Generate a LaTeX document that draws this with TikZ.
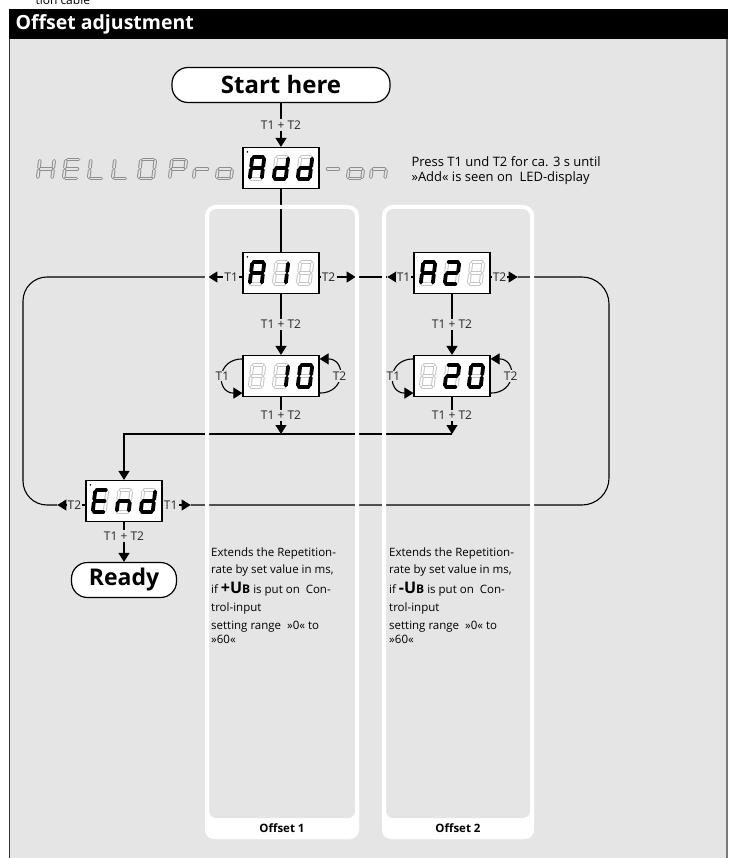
\documentclass[tikz,border=0pt]{standalone}
\usepackage{fontspec}
\setmainfont{Open Sans}
\usetikzlibrary{arrows.meta,positioning}

\definecolor{panelgray}{HTML}{E5E5E5}
\definecolor{ledpale}{HTML}{C6C6C6}
\definecolor{ledgray}{HTML}{8E8E8E}
\definecolor{framegray}{HTML}{7A7A7A}

\newcommand\segline[2]{%
  \if#2a\draw[#1] (-4.5,-11) -- (4.5,-11);\fi
  \if#2b\draw[#1] (6,-9.5) -- (6,-1.5);\fi
  \if#2c\draw[#1] (6,1.5) -- (6,9.5);\fi
  \if#2d\draw[#1] (-4.5,11) -- (4.5,11);\fi
  \if#2e\draw[#1] (-6,1.5) -- (-6,9.5);\fi
  \if#2f\draw[#1] (-6,-9.5) -- (-6,-1.5);\fi
  \if#2g\draw[#1] (-4.5,0) -- (4.5,0);\fi}
\newcommand\leddigit[3]{%
  \begin{scope}[shift={#1},xslant=0.12]
    \foreach \s in {#3} {\segline{segoff}{\s}\segline{segoffin}{\s}}
    \foreach \s in {#2} {\segline{segon}{\s}}
  \end{scope}}
\newcommand\ledblank[1]{%
  \begin{scope}[shift={#1},xslant=0.12]
    \foreach \s in {a,b,c,d,e,f,g} {\segline{segoff}{\s}\segline{segoffin}{\s}}
  \end{scope}}
\newcommand\ledhello[2]{%
  \begin{scope}[shift={#1},xslant=0.12,xscale=1.2,yscale=0.86]
    \foreach \s in {#2} {\segline{seghello}{\s}\segline{seghelloin}{\s}}
  \end{scope}}

\begin{document}
\begin{tikzpicture}[x=1pt,y=-1pt,
    disp/.style={draw,fill=white,line width=1.2pt,minimum width=76pt,minimum height=41pt,inner sep=0pt},
    pill/.style={draw,fill=white,line width=1.2pt,rounded corners=16pt,inner sep=0pt},
    lbl/.style={fill=panelgray,inner sep=1.2pt,text=black!85,font=\fontsize{12}{13}\selectfont},
    arr/.style={line width=1.1pt,-{Triangle[width=11pt,length=9pt]}},
    wire/.style={line width=1.1pt},
    segon/.style={black,line width=3.8pt,line cap=round},
    segoff/.style={ledpale,line width=3.8pt,line cap=round},
    segoffin/.style={white,line width=1.8pt,line cap=round},
    seghello/.style={ledgray,line width=3.6pt,line cap=round},
    seghelloin/.style={panelgray,line width=1.6pt,line cap=round},
    desc/.style={align=left,inner sep=0pt,anchor=north west,font=\fontsize{11.5}{14}\selectfont},
    offlbl/.style={font=\bfseries\fontsize{11.5}{13}\selectfont}]
    \useasboundingbox (0,0) rectangle (728,858);
    \clip (0,0) rectangle (728,858);

    \node[anchor=base west,font=\fontsize{12}{13}\selectfont] (capt) at (32,5) {tion cable};
    \fill[black] (9,9) rectangle (728,39);
    \node[anchor=west,text=white,font=\bfseries\fontsize{19.5}{21}\selectfont] (title) at (12,24) {Offset adjustment};
    \fill[panelgray] (9,39) rectangle (727,858);
    \draw[black!80,line width=1.2pt] (9.6,39) -- (9.6,858);
    \draw[framegray,line width=1.5pt] (727,39) -- (727,858);

    \fill[white,rounded corners=9pt] (205,790) rectangle (359,839);
    \fill[panelgray,rounded corners=7pt] (209,770) rectangle (355,818);
    \fill[white,rounded corners=9pt] (382,790) rectangle (534,839);
    \fill[panelgray,rounded corners=7pt] (386,770) rectangle (530,818);

    \node[pill,minimum width=218pt,minimum height=35pt,font=\bfseries\fontsize{24}{26}\selectfont] (start) at (281,85) {Start here};
    \node[disp] (add) at (281,168) {};
    \node[disp] (a1) at (281,273) {};
    \node[disp] (a10) at (281,376) {};
    \node[disp] (a2) at (452,273) {};
    \node[disp] (a20) at (452,376) {};
    \node[disp] (ende) at (124,501) {};
    \node[pill,minimum width=105pt,minimum height=35pt,font=\bfseries\fontsize{23}{25}\selectfont] (ready) at (124,580) {Ready};

    \coordinate (jn) at (0,434);
    \coordinate (lx) at (23,0);
    \coordinate (rx) at (609,0);
    \coordinate (a1l) at ([xshift=-34pt,yshift=-4pt]a1.west);
    \coordinate (a1r) at ([xshift=36pt,yshift=-4pt]a1.east);
    \coordinate (a2l) at ([xshift=-26pt,yshift=-4pt]a2.west);
    \coordinate (a2r) at ([xshift=27pt,yshift=-4pt]a2.east);
    \coordinate (endl) at ([xshift=-28pt,yshift=-4pt]ende.west);
    \coordinate (endr) at ([xshift=28pt,yshift=-4pt]ende.east);

    \draw[arr] (start) -- node[lbl]{T1 + T2} (add);
    \draw[wire] (add) -- (a1);
    \draw[arr] (a1) -- node[lbl]{T1 + T2} (a10);
    \draw[arr] (a2) -- node[lbl]{T1 + T2} (a20);
    \draw[arr] (a10) -- node[lbl]{T1 + T2} (a10 |- jn);
    \draw[arr] (a20) -- node[lbl]{T1 + T2} (a20 |- jn);
    \draw[arr] (a20 |- jn) -| (ende);
    \draw[arr] (ende) -- node[lbl,pos=.35]{T1 + T2} (ready);

    \draw[wire,rounded corners=24pt] (a1l) -- (a1l -| lx) -- (endl -| lx) -- (endl);
    \draw[wire,rounded corners=27pt] (a2r) -- (a2r -| rx) -- (endr -| rx) -- (endr);
    \draw[wire] (a1r) -- (a2l);
    \draw[arr] ([yshift=-4pt]a1.west) -- node[lbl,pos=.33]{T1} (a1l);
    \draw[arr] ([yshift=-4pt]a1.east) -- node[lbl,pos=.25]{T2} (a1r);
    \draw[arr] ([yshift=-4pt]a2.west) -- node[lbl,pos=.38]{T1} (a2l);
    \draw[arr] ([yshift=-4pt]a2.east) -- node[lbl,pos=.33]{T2} (a2r);
    \draw[arr] ([yshift=-4pt]ende.west) -- node[lbl,pos=.39]{T2} (endl);
    \draw[arr] ([yshift=-4pt]ende.east) -- node[lbl,pos=.29]{T1} (endr);

    \draw[arr] ([yshift=-4pt]a10.north west) to[out=180,in=180,looseness=2] node[lbl]{T1} ([yshift=4pt]a10.south west);
    \draw[arr] ([yshift=4pt]a10.south east) to[out=0,in=0,looseness=2] node[lbl]{T2} ([yshift=-4pt]a10.north east);
    \draw[arr] ([yshift=-4pt]a20.north west) to[out=180,in=180,looseness=2] node[lbl]{T1} ([yshift=4pt]a20.south west);
    \draw[arr] ([yshift=4pt]a20.south east) to[out=0,in=0,looseness=2] node[lbl]{T2} ([yshift=-4pt]a20.north east);

    \leddigit{([xshift=-24pt]add.center)}{a,b,c,e,f,g}{d}
    \leddigit{(add.center)}{b,c,d,e,g}{a,f}
    \leddigit{([xshift=24pt]add.center)}{b,c,d,e,g}{a,f}
    \leddigit{([xshift=-24pt]a1.center)}{a,b,c,e,f,g}{d}
    \leddigit{(a1.center)}{b,c}{a,d,e,f,g}
    \ledblank{([xshift=24pt]a1.center)}
    \ledblank{([xshift=-24pt]a10.center)}
    \leddigit{(a10.center)}{b,c}{a,d,e,f,g}
    \leddigit{([xshift=24pt]a10.center)}{a,b,c,d,e,f}{g}
    \leddigit{([xshift=-24pt]a2.center)}{a,b,c,e,f,g}{d}
    \leddigit{(a2.center)}{a,b,g,e,d}{c,f}
    \ledblank{([xshift=24pt]a2.center)}
    \ledblank{([xshift=-24pt]a20.center)}
    \leddigit{(a20.center)}{a,b,g,e,d}{c,f}
    \leddigit{([xshift=24pt]a20.center)}{a,b,c,d,e,f}{g}
    \leddigit{([xshift=-24pt]ende.center)}{a,d,e,f,g}{b,c}
    \leddigit{(ende.center)}{c,e,g}{a,b,d,f}
    \leddigit{([xshift=24pt]ende.center)}{b,c,d,e,g}{a,f}
    \fill ([xshift=5pt,yshift=-5pt]add.north west) circle (0.9pt);
    \fill ([xshift=5pt,yshift=-5pt]a1.north west) circle (0.9pt);
    \fill ([xshift=5pt,yshift=-5pt]ende.north west) circle (0.9pt);

    \ledhello{(46,169)}{b,c,e,f,g}
    \ledhello{(72,169)}{a,d,e,f,g}
    \ledhello{(97,169)}{d,e,f}
    \ledhello{(121,169)}{d,e,f}
    \ledhello{(147,169)}{a,b,c,d,e,f}
    \ledhello{(178,169)}{a,b,e,f,g}
    \ledhello{(202,169)}{e,g}
    \ledhello{(225,169)}{c,d,e,g}
    \ledhello{(333,169)}{g}
    \ledhello{(356,169)}{c,d,e,g}
    \ledhello{(379,169)}{c,e,g}
    \node[align=left,anchor=west,font=\fontsize{13}{15}\selectfont] (press) at (408,171) {Press T1 und T2 for ca. 3 s until\\ »Add« is seen on~ LED-display};

    \draw[white,line width=4pt,rounded corners=9pt] (207,207) rectangle (357,837);
    \draw[white,line width=4pt,rounded corners=9pt] (384,207) rectangle (532,837);

    \node[desc] (desc1) at (211,548) {Extends the Repetition-\\[3pt] rate by set value in ms,\\[4pt] if {\bfseries\fontsize{16}{14}\selectfont +U\fontsize{12}{14}\selectfont B} is put on~ Con-\\[4pt] trol-input\\[4pt] setting range~ »0« to\\ »60«};
    \node[desc] (desc2) at (389,548) {Extends the Repetition-\\[3pt] rate by set value in ms,\\[4pt] if {\bfseries\fontsize{16}{14}\selectfont -U\fontsize{12}{14}\selectfont B} is put on~ Con-\\[4pt] trol-input\\[4pt] setting range~ »0« to\\ »60«};
    \node[offlbl] (off1) at (282,828) {Offset 1};
    \node[offlbl] (off2) at (458,828) {Offset 2};
\end{tikzpicture}
\end{document}
